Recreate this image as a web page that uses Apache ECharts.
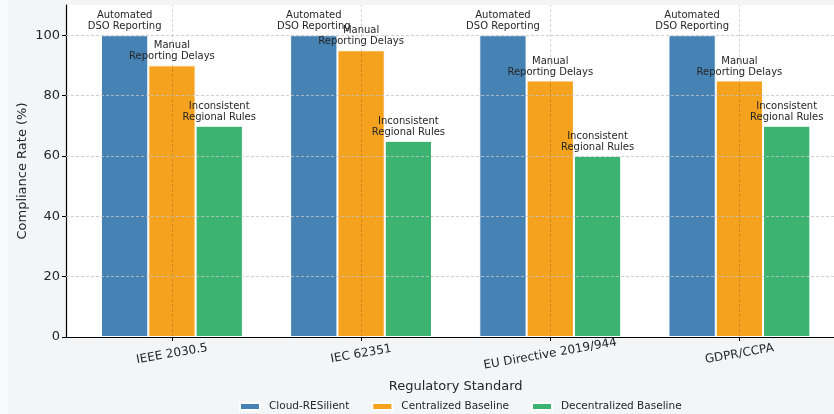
<!DOCTYPE html>
<html>
<head>
<meta charset="utf-8">
<script src="https://cdn.jsdelivr.net/npm/echarts@6/dist/echarts.min.js"></script>
<style>
  html, body { margin: 0; padding: 0; background: #f3f5f7; }
  #chart { width: 834px; height: 414px; }
</style>
</head>
<body>
<div id="chart"></div>
<script>
// Regulatory standards compared
const standards = ['IEEE 2030.5', 'IEC 62351', 'EU Directive 2019/944', 'GDPR/CCPA'];

// Compliance rate (%) per approach
const cloudResilient = [100, 100, 100, 100];
const centralizedBaseline = [90, 95, 85, 85];
const decentralizedBaseline = [70, 65, 60, 70];

// Annotation drawn above each bar of a series
const cloudNote = 'Automated\nDSO Reporting';
const centralizedNote = 'Manual\nReporting Delays';
const decentralizedNote = 'Inconsistent\nRegional Rules';

// Gridline positions on the compliance axis
const yTicks = [0, 20, 40, 60, 80, 100];

const FONT = 'DejaVu Sans';
const TEXT = '#262626';
const HGRID = { color: '#c4c4c4', type: [3, 2], width: 0.8 };
const VGRID = { color: 'rgba(0,0,0,0.2)', type: [3, 2], width: 0.8 };

const chart = echarts.init(document.getElementById('chart'));

function barSeries(name, values, color, note) {
  return {
    name: name,
    type: 'bar',
    xAxisIndex: 1,
    yAxisIndex: 1,
    data: values,
    barWidth: 47.3,
    barGap: '0%',
    itemStyle: { color: color, borderColor: '#ffffff', borderWidth: 1 },
    label: {
      show: true,
      position: 'top',
      distance: 3,
      formatter: () => note,
      fontFamily: FONT,
      fontSize: 10,
      lineHeight: 11,
      color: TEXT,
      align: 'center'
    },
    z: 2
  };
}

chart.setOption({
  backgroundColor: '#f3f5f7',
  animation: false,
  graphic: [
    { type: 'rect', left: 0, top: 0, shape: { width: 8, height: 414 }, style: { fill: '#f9fafb' }, silent: true, z: -1 }
  ],
  grid: [
    // plotting frame: white panel, spines, y ticks
    { left: 66, top: 5, width: 780, height: 332, show: true, backgroundColor: '#ffffff', borderWidth: 0 },
    // bar area, bands aligned on the category centres
    { left: 77.35, top: 5, width: 757.3, height: 332 }
  ],
  xAxis: [
    {
      type: 'value', gridIndex: 0, min: 0, max: 1,
      axisLine: { show: true, lineStyle: { color: '#000', width: 1.2 } },
      axisTick: { show: false }, axisLabel: { show: false }, splitLine: { show: false }
    },
    {
      type: 'category', gridIndex: 1, data: standards,
      axisLine: { show: false },
      axisTick: { show: true, alignWithLabel: true, length: 4, lineStyle: { color: '#000', width: 1 } },
      axisLabel: {
        rotate: 10, align: 'center', margin: 17,
        fontFamily: FONT, fontSize: 12, color: TEXT
      },
      splitLine: { show: false },
      name: 'Regulatory Standard',
      nameLocation: 'middle',
      nameGap: 43,
      nameMoveOverlap: false,
      nameTextStyle: { fontFamily: FONT, fontSize: 13, color: TEXT }
    }
  ],
  yAxis: [
    {
      type: 'value', gridIndex: 0, min: 0, max: 110, interval: 20,
      axisLine: { show: true, lineStyle: { color: '#000', width: 1.2 } },
      axisTick: { show: true, length: 4, lineStyle: { color: '#000' } },
      axisLabel: {
        showMaxLabel: false, margin: 6,
        fontFamily: FONT, fontSize: 13, color: TEXT
      },
      splitLine: { show: false },
      name: 'Compliance Rate (%)',
      nameLocation: 'middle',
      nameGap: 37,
      nameMoveOverlap: false,
      nameTextStyle: { fontFamily: FONT, fontSize: 13, color: TEXT }
    },
    {
      type: 'value', gridIndex: 1, min: 0, max: 110, show: false
    }
  ],
  legend: {
    data: ['Cloud-RESilient', 'Centralized Baseline', 'Decentralized Baseline'],
    left: 234,
    top: 396,
    icon: 'rect',
    itemWidth: 20,
    itemHeight: 7,
    itemGap: 22,
    textStyle: { fontFamily: FONT, fontSize: 10.5, color: TEXT, padding: [0, 0, 0, 4] }
  },
  series: [
    {
      // horizontal dashed gridlines behind the bars
      type: 'line', xAxisIndex: 0, yAxisIndex: 0, data: [], z: 1,
      markLine: {
        silent: true, symbol: 'none', label: { show: false },
        lineStyle: HGRID,
        data: yTicks.slice(1).map(v => ({ yAxis: v }))
      }
    },
    barSeries('Cloud-RESilient', cloudResilient, '#4682b4', cloudNote),
    barSeries('Centralized Baseline', centralizedBaseline, '#f5a31f', centralizedNote),
    barSeries('Decentralized Baseline', decentralizedBaseline, '#3cb371', decentralizedNote),
    {
      // vertical dashed gridlines through each category centre
      type: 'line', xAxisIndex: 1, yAxisIndex: 1, data: [], z: 10,
      markLine: {
        silent: true, symbol: 'none', label: { show: false },
        lineStyle: VGRID,
        data: standards.map(s => ({ xAxis: s }))
      }
    }
  ]
});
</script>
</body>
</html>
